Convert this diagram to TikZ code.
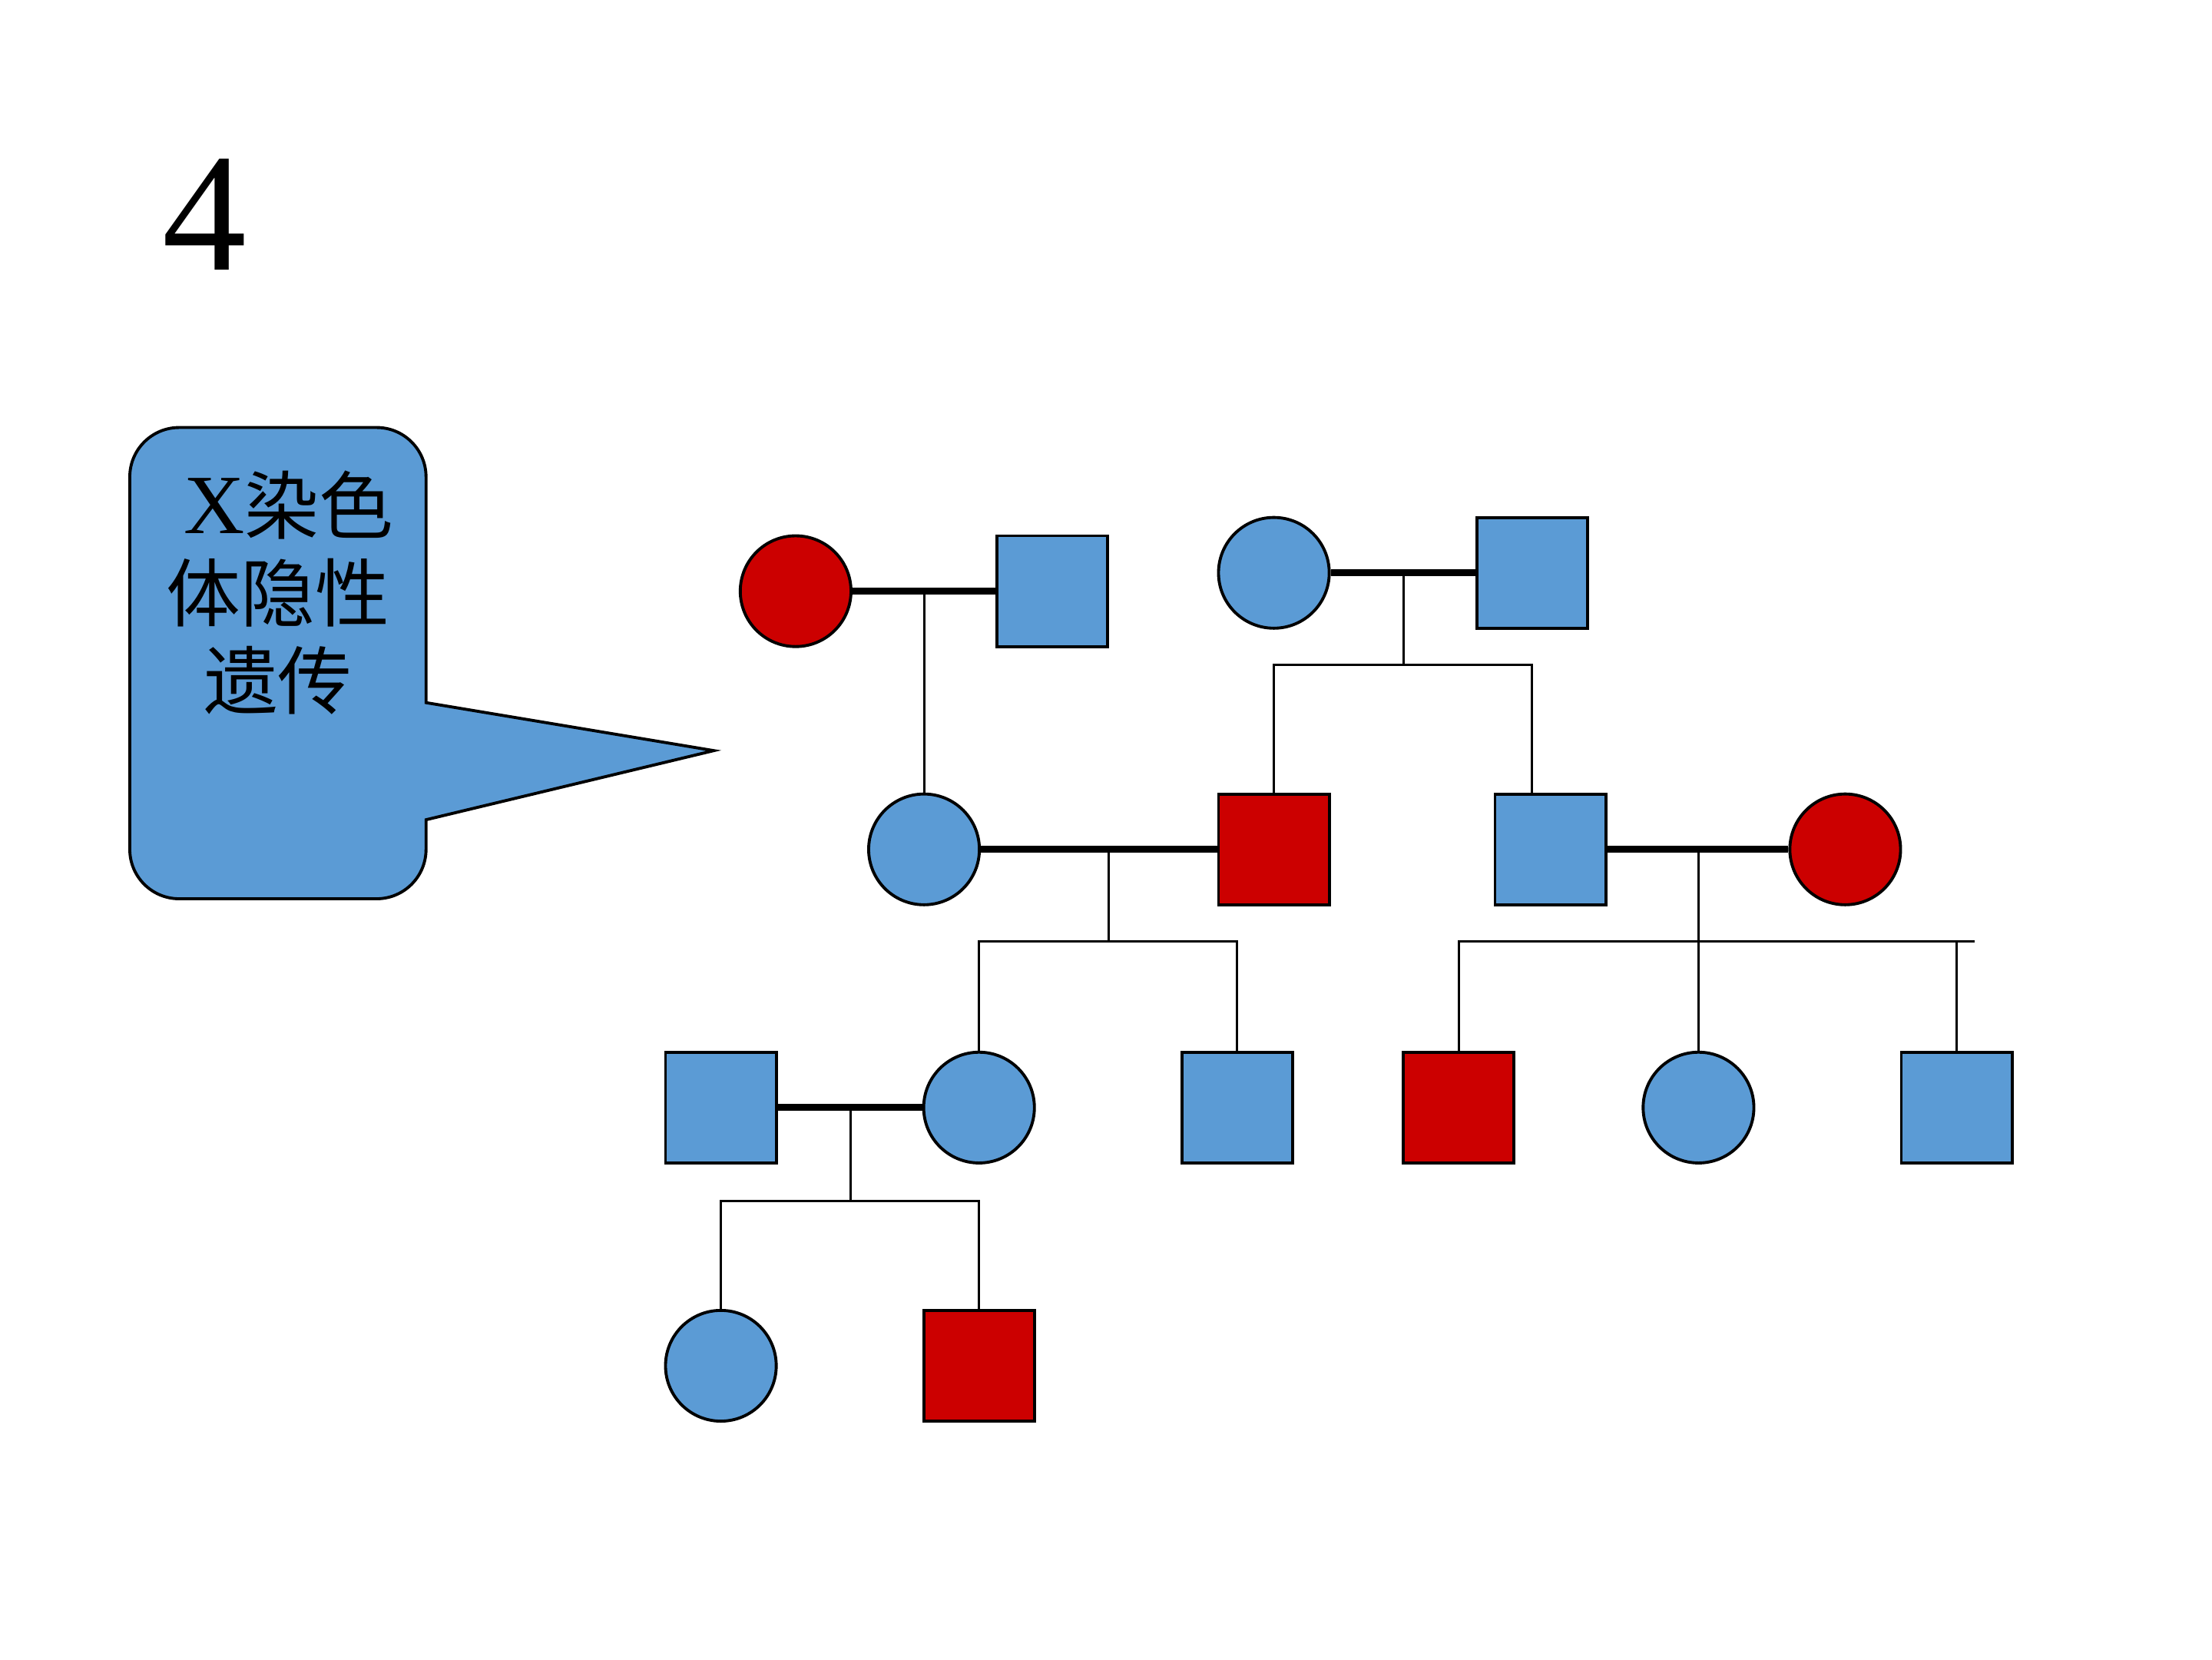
\documentclass[tikz,border=0pt]{standalone}
\usepackage{fontspec}
\setmainfont{Liberation Serif}
\newfontfamily\cjk{Noto Sans CJK SC}
\usepackage{xcolor}
\definecolor{kinblue}{HTML}{5B9BD5}
\definecolor{kinred}{HTML}{CC0000}
\tikzstyle{male}=[draw=black, line width=0.6pt, minimum size=7.85mm]
\tikzstyle{female}=[circle, draw=black, line width=0.6pt, minimum size=7.85mm]
\tikzstyle{mate}=[black, line width=1.4pt]
\tikzstyle{kin}=[black, line width=0.45pt]
\tikzstyle{bubble}=[fill=kinblue, draw=black, line width=0.6pt]

\begin{document}
\begin{tikzpicture}[x=0.1mm,y=0.1mm]
\tikzstyle{every node}+=[inner sep=0pt]
\useasboundingbox (0,0) rectangle (1568,-1176);

\node (num) at (145,-152) {\fontsize{34pt}{40pt}\selectfont 4};

\draw [bubble] (302,-498) -- (506,-532) -- (302,-581) -- (302,-602) arc (0:-90:35) -- (127,-637) arc (270:180:35) -- (92,-338) arc (180:90:35) -- (267,-303) arc (90:0:35) -- cycle;
\node [align=center, font=\fontsize{15pt}{17.6pt}\selectfont\cjk] (note) at (197,-420) {\hspace{1.5mm}{\rmfamily\fontsize{17pt}{17.6pt}\selectfont X}染色\\体隐性\\遗传};

\node [female, fill=kinred] (Ia) at (564,-419) {};
\node [male, fill=kinblue] (Ib) at (746,-419) {};
\node [female, fill=kinblue] (Ic) at (903,-406) {};
\node [male, fill=kinblue] (Id) at (1086,-406) {};

\node [female, fill=kinblue] (IIa) at (655,-602) {};
\node [male, fill=kinred] (IIb) at (903,-602) {};
\node [male, fill=kinblue] (IIc) at (1099,-602) {};
\node [female, fill=kinred] (IId) at (1308,-602) {};

\node [male, fill=kinblue] (IIIa) at (511,-785) {};
\node [female, fill=kinblue] (IIIb) at (694,-785) {};
\node [male, fill=kinblue] (IIIc) at (877,-785) {};
\node [male, fill=kinred] (IIId) at (1034,-785) {};
\node [female, fill=kinblue] (IIIe) at (1204,-785) {};
\node [male, fill=kinblue] (IIIf) at (1387,-785) {};

\node [female, fill=kinblue] (IVa) at (511,-968) {};
\node [male, fill=kinred] (IVb) at (694,-968) {};

\coordinate (Iab) at (655,-419);
\coordinate (Icd) at (995,-406);
\coordinate (Icd') at (995,-471);
\coordinate (IIab) at (786,-602);
\coordinate (IIab') at (786,-667);
\coordinate (IIcd) at (1204,-602);
\coordinate (IIcd') at (1204,-667);
\coordinate (IIend) at (1400,-667);
\coordinate (IIIab) at (603,-785);
\coordinate (IIIab') at (603,-851);

\draw [mate] (Ia) -- (Ib);
\draw [kin] (Iab) -- (IIa);
\draw [mate] (Ic) -- (Id);
\draw [kin] (Icd) -- (Icd');
\draw [kin] (IIb.north) |- (Icd') -| (Id |- IIc.north);

\draw [mate] (IIa) -- (IIb);
\draw [kin] (IIab) -- (IIab');
\draw [kin] (IIIb.north) |- (IIab') -| (IIIc.north);

\draw [mate] (IIc) -- (IId);
\draw [kin] (IIcd) -- (IIIe);
\draw [kin] (IIId.north) |- (IIend);
\draw [kin] (IIIf.north) -- (IIIf.north |- IIend);

\draw [mate] (IIIa) -- (IIIb);
\draw [kin] (IIIab) -- (IIIab');
\draw [kin] (IVa.north) |- (IIIab') -| (IVb.north);
\end{tikzpicture}
\end{document}
